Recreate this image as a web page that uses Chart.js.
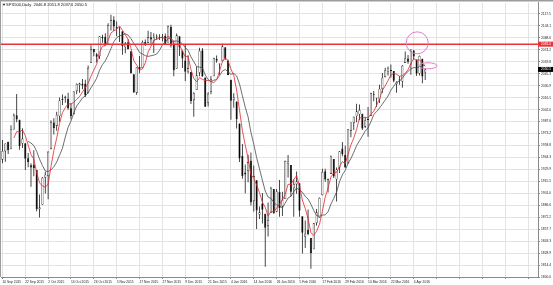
<!DOCTYPE html>
<html>
<head>
<meta charset="utf-8">
<script src="https://cdn.jsdelivr.net/npm/chart.js@4.4.1/dist/chart.umd.min.js"></script>
<style>
  html, body { margin: 0; padding: 0; background: #fff; }
</style>
</head>
<body>
<canvas id="chart" width="553" height="285"></canvas>
<script>
const symbolTitle = 'SPX500,Daily';

// one entry per daily bar
const dates = [
  '10 Sep 2015','11 Sep 2015','14 Sep 2015','15 Sep 2015','16 Sep 2015','17 Sep 2015','18 Sep 2015','21 Sep 2015','22 Sep 2015','23 Sep 2015','24 Sep 2015','25 Sep 2015','28 Sep 2015','29 Sep 2015','30 Sep 2015',
  '1 Oct 2015','2 Oct 2015','5 Oct 2015','6 Oct 2015','7 Oct 2015','8 Oct 2015','9 Oct 2015','12 Oct 2015','13 Oct 2015','14 Oct 2015','15 Oct 2015','16 Oct 2015','19 Oct 2015','20 Oct 2015','21 Oct 2015','22 Oct 2015','23 Oct 2015','26 Oct 2015','27 Oct 2015','28 Oct 2015','29 Oct 2015','30 Oct 2015',
  '2 Nov 2015','3 Nov 2015','4 Nov 2015','5 Nov 2015','6 Nov 2015','9 Nov 2015','10 Nov 2015','11 Nov 2015','12 Nov 2015','13 Nov 2015','16 Nov 2015','17 Nov 2015','18 Nov 2015','19 Nov 2015','20 Nov 2015','23 Nov 2015','24 Nov 2015','25 Nov 2015','26 Nov 2015','27 Nov 2015','30 Nov 2015',
  '1 Dec 2015','2 Dec 2015','3 Dec 2015','4 Dec 2015','7 Dec 2015','8 Dec 2015','9 Dec 2015','10 Dec 2015','11 Dec 2015','14 Dec 2015','15 Dec 2015','16 Dec 2015','17 Dec 2015','18 Dec 2015','21 Dec 2015','22 Dec 2015','23 Dec 2015','24 Dec 2015','28 Dec 2015','29 Dec 2015','30 Dec 2015','31 Dec 2015',
  '4 Jan 2016','5 Jan 2016','6 Jan 2016','7 Jan 2016','8 Jan 2016','11 Jan 2016','12 Jan 2016','13 Jan 2016','14 Jan 2016','15 Jan 2016','18 Jan 2016','19 Jan 2016','20 Jan 2016','21 Jan 2016','22 Jan 2016','25 Jan 2016','26 Jan 2016','27 Jan 2016','28 Jan 2016','29 Jan 2016',
  '1 Feb 2016','2 Feb 2016','3 Feb 2016','4 Feb 2016','5 Feb 2016','8 Feb 2016','9 Feb 2016','10 Feb 2016','11 Feb 2016','12 Feb 2016','15 Feb 2016','16 Feb 2016','17 Feb 2016','18 Feb 2016','19 Feb 2016','22 Feb 2016','23 Feb 2016','24 Feb 2016','25 Feb 2016','26 Feb 2016','29 Feb 2016',
  '1 Mar 2016','2 Mar 2016','3 Mar 2016','4 Mar 2016','7 Mar 2016','8 Mar 2016','9 Mar 2016','10 Mar 2016','11 Mar 2016','14 Mar 2016','15 Mar 2016','16 Mar 2016','17 Mar 2016','18 Mar 2016','21 Mar 2016','22 Mar 2016','23 Mar 2016','24 Mar 2016','28 Mar 2016','29 Mar 2016','30 Mar 2016','31 Mar 2016',
  '1 Apr 2016','4 Apr 2016','5 Apr 2016','6 Apr 2016','7 Apr 2016','8 Apr 2016'
];

const opens = [
  1941.6,1951.5,1963.1,1955.1,1978.0,1995.3,1989.7,1960.8,1961.4,1943.2,1934.8,1935.9,1929.2,1881.9,1887.1,
  1919.7,1921.8,1954.3,1986.6,1982.3,1994.0,2013.7,2015.7,2015.0,2003.7,1996.5,2024.4,2031.7,2033.1,2033.5,2021.9,2058.2,2075.1,2068.8,2066.5,2088.4,2090.0,
  2080.8,2102.6,2110.6,2101.7,2098.6,2096.6,2077.2,2083.4,2072.3,2044.6,2022.1,2053.7,2052.0,2083.7,2082.8,2089.4,2084.4,2089.3,2088.5,2088.8,2091.0,
  2082.9,2101.7,2080.7,2051.2,2090.4,2073.4,2061.2,2047.9,2047.3,2013.4,2025.6,2046.5,2073.8,2040.8,2010.3,2023.2,2042.2,2063.5,2057.8,2060.5,2077.3,2060.6,
  2038.2,2013.8,2011.7,1985.3,1946.0,1926.1,1927.8,1940.3,1891.7,1916.7,1875.0,1888.7,1876.2,1861.5,1877.4,1906.3,1878.8,1902.5,1885.2,1894.0,
  1936.9,1935.3,1907.1,1911.7,1913.1,1873.3,1848.5,1857.1,1847.0,1833.4,1865.0,1871.4,1898.8,1927.6,1916.7,1924.4,1942.4,1917.6,1931.9,1955.0,1947.1,
  1937.1,1976.6,1985.6,1994.0,1996.1,1996.9,1981.4,1991.0,1994.7,2019.3,2015.3,2014.2,2026.9,2041.2,2047.9,2048.6,2048.6,2032.5,2037.9,2035.8,2058.3,2063.8,
  2056.6,2073.2,2062.5,2045.6,2063.4,2046.8
];

const highs = [
  1965.3,1961.1,1963.1,1983.2,1997.3,2020.9,1989.7,1979.6,1961.4,1949.5,1937.2,1952.9,1929.2,1899.5,1920.5,
  1927.2,1951.4,1989.2,1991.6,1999.3,2016.5,2020.1,2018.7,2022.3,2009.6,2024.2,2033.5,2034.5,2039.1,2038.0,2055.2,2079.7,2075.1,2070.4,2090.4,2092.5,2094.3,
  2106.2,2116.5,2114.6,2108.8,2101.9,2096.6,2083.7,2086.9,2072.3,2044.6,2053.2,2066.7,2085.3,2086.7,2097.1,2095.6,2094.1,2093.0,2093.0,2093.3,2093.8,
  2103.4,2104.3,2085.0,2093.8,2090.4,2073.4,2080.3,2067.7,2047.3,2022.9,2053.9,2076.7,2076.4,2040.8,2022.9,2042.7,2064.7,2067.4,2057.8,2081.6,2077.3,2062.5,
  2038.2,2021.9,2011.7,1985.3,1960.4,1935.7,1947.4,1950.3,1934.5,1916.7,1885.0,1901.4,1876.2,1889.9,1908.9,1906.3,1906.3,1917.0,1903.0,1940.2,
  1947.2,1935.3,1918.0,1927.4,1913.1,1873.3,1868.3,1881.6,1847.0,1864.8,1882.0,1895.8,1930.7,1930.5,1918.8,1946.7,1942.4,1932.1,1951.8,1963.0,1958.3,
  1978.4,1986.5,1993.7,2009.1,2008.3,1996.9,1992.7,2005.1,2022.4,2024.6,2015.9,2032.0,2046.2,2052.4,2053.9,2056.6,2048.6,2036.0,2042.7,2055.9,2072.2,2067.9,
  2075.1,2074.0,2062.5,2067.3,2063.4,2051.8
];

const lows = [
  1937.2,1939.2,1948.3,1954.3,1977.9,1986.7,1953.5,1955.8,1929.2,1932.6,1908.9,1921.5,1879.2,1871.9,1887.1,
  1900.7,1893.7,1954.3,1972.0,1976.4,1987.5,2007.6,2010.3,2001.8,1990.7,1996.5,2020.5,2022.3,2026.6,2017.2,2021.9,2058.2,2066.5,2058.8,2063.1,2082.6,2079.3,
  2080.8,2097.5,2097.0,2090.4,2083.7,2068.2,2069.9,2074.9,2045.7,2022.0,2019.9,2045.9,2052.0,2078.8,2082.8,2081.4,2070.3,2086.3,2086.0,2084.1,2080.4,
  2082.9,2077.1,2042.4,2051.2,2066.8,2052.3,2036.5,2045.7,2008.8,1993.3,2025.6,2042.4,2041.7,2005.3,2005.9,2020.5,2042.2,2058.7,2044.2,2060.5,2062.0,2043.6,
  1989.7,2004.2,1979.1,1938.8,1918.5,1901.1,1914.4,1886.3,1878.9,1857.8,1870.0,1864.6,1812.3,1849.0,1877.4,1876.0,1878.8,1872.7,1873.6,1894.0,
  1920.0,1897.3,1872.7,1900.5,1872.7,1828.5,1834.9,1850.3,1810.1,1833.4,1862.0,1871.4,1898.8,1915.1,1902.0,1924.4,1919.4,1891.0,1925.4,1945.8,1931.8,
  1937.1,1968.8,1977.4,1986.8,1989.3,1977.4,1979.8,1969.2,1994.7,2012.1,2005.2,2010.0,2022.2,2041.2,2043.1,2040.6,2034.9,2022.5,2032.0,2028.3,2058.3,2057.5,
  2044.0,2062.6,2042.6,2043.1,2033.8,2037.6
];

const closes = [
  1952.3,1961.1,1953.0,1978.1,1995.3,1990.2,1958.0,1967.0,1942.7,1938.8,1932.2,1931.3,1881.8,1884.1,1920.0,
  1923.8,1951.4,1987.1,1979.9,1995.8,2013.4,2014.9,2017.5,2003.7,1994.2,2023.9,2033.1,2033.7,2030.8,2018.9,2052.5,2075.2,2071.2,2065.9,2090.4,2089.4,2079.4,
  2104.1,2109.8,2102.3,2099.9,2099.2,2078.6,2081.7,2075.0,2046.0,2023.0,2053.2,2050.4,2083.6,2081.2,2089.2,2086.6,2089.1,2088.9,2090.0,2090.1,2080.4,
  2102.6,2079.5,2049.6,2091.7,2077.1,2063.6,2047.6,2052.2,2012.4,2021.9,2043.4,2073.1,2041.9,2005.6,2021.2,2039.0,2064.3,2061.0,2056.5,2078.4,2063.4,2043.9,
  2012.7,2016.7,1990.3,1943.1,1922.0,1923.7,1938.7,1890.3,1921.8,1880.3,1878.0,1881.3,1859.3,1869.0,1906.9,1877.1,1903.6,1883.0,1893.4,1940.2,
  1939.4,1903.0,1912.5,1915.5,1880.1,1853.4,1852.2,1851.9,1829.1,1864.8,1878.0,1895.6,1926.8,1917.8,1917.8,1945.5,1921.3,1929.8,1951.7,1948.1,1932.2,
  1978.4,1986.5,1993.4,2000.0,2001.8,1979.3,1989.3,1989.6,2022.2,2019.6,2015.9,2027.2,2040.6,2049.6,2051.6,2049.8,2036.7,2035.9,2037.1,2055.0,2064.0,2059.7,
  2072.8,2066.1,2045.2,2066.7,2041.9,2050.5
];

const xTickLabels = [
  '10 Sep 2015','22 Sep 2015','2 Oct 2015','14 Oct 2015','26 Oct 2015','5 Nov 2015','17 Nov 2015','27 Nov 2015',
  '9 Dec 2015','21 Dec 2015','4 Jan 2016','14 Jan 2016','26 Jan 2016','5 Feb 2016','17 Feb 2016','29 Feb 2016',
  '10 Mar 2016','22 Mar 2016','4 Apr 2016'
];

const yTickValues = [
  1800.0,1814.4,1828.9,1843.3,1857.7,1872.2,1886.6,1901.0,1915.5,1929.9,1944.3,1958.8,
  1973.2,1987.6,2002.0,2016.5,2030.9,2045.3,2059.8,2074.2,2088.6,2103.1,2117.5
];

const resistanceLevel = 2081.0;
const fastPeriod = 5;
const slowPeriod = 10;

// hand drawn marks (bar index, price)
const circleMark = { bar: 145.2, price: 2082.6 };
const ellipseMark = { bar: 149.0, price: 2054.9 };

const rightShiftBars = 39;
const gridEveryBars = 8;

// simple moving average of the closes
function sma(values, period) {
  return values.map((v, i) => {
    if (i < period - 1) return null;
    let s = 0;
    for (let k = i - period + 1; k <= i; k++) s += values[k];
    return s / period;
  });
}

const lastClose = closes[closes.length - 1];
const n = closes.length - 1;
const headerText = symbolTitle + '  ' + [opens[n], highs[n], lows[n], closes[n]].map(v => v.toFixed(1)).join(' ');

const bodyData = opens.map((o, i) => [o, closes[i]]);
const wickData = lows.map((l, i) => [l, highs[i]]);
const bodyFill = opens.map((o, i) => closes[i] >= o ? '#ffffff' : '#000000');

const tinyFont = { family: 'Liberation Sans', size: 3.3 };

const overlay = {
  id: 'overlay',
  beforeDraw(chart) {
    const c = chart.ctx;
    c.save();
    c.fillStyle = '#ffffff';
    c.fillRect(0, 0, chart.width, chart.height);
    c.restore();
  },
  afterDatasetsDraw(chart) {
    const { ctx, chartArea: a, scales: { x, y } } = chart;
    const ly = y.getPixelForValue(resistanceLevel);
    ctx.save();
    ctx.strokeStyle = '#e8323c';
    ctx.lineWidth = 1.5;
    ctx.beginPath();
    ctx.moveTo(a.left, ly);
    ctx.lineTo(a.right, ly);
    ctx.stroke();

    ctx.strokeStyle = '#e07fcc';
    ctx.lineWidth = 1;
    ctx.beginPath();
    ctx.arc(x.getPixelForValue(circleMark.bar), y.getPixelForValue(circleMark.price), 11, 0, Math.PI * 2);
    ctx.stroke();
    ctx.beginPath();
    ctx.ellipse(x.getPixelForValue(ellipseMark.bar), y.getPixelForValue(ellipseMark.price), 9, 3, 0, 0, Math.PI * 2);
    ctx.stroke();
    ctx.restore();
  },
  afterDraw(chart) {
    const { ctx, chartArea: a, scales: { y } } = chart;
    ctx.save();
    // window frame
    ctx.fillStyle = '#9c9c9c';
    ctx.fillRect(0, 0, chart.width, 1.5);
    ctx.fillRect(0, 0, 1, a.bottom);

    // price boxes on the axis
    const box = (price, fill) => {
      const py = y.getPixelForValue(price);
      ctx.fillStyle = fill;
      ctx.fillRect(a.right, py - 2.5, chart.width - a.right, 5);
      ctx.fillStyle = '#ffffff';
      ctx.font = '3.3px "Liberation Sans"';
      ctx.textBaseline = 'middle';
      ctx.textAlign = 'left';
      ctx.fillText(price.toFixed(1), a.right + 3, py);
    };
    box(resistanceLevel, '#e8323c');
    box(lastClose, '#000000');

    // header
    ctx.fillStyle = '#111';
    ctx.font = '4.1px "Liberation Sans"';
    ctx.textBaseline = 'middle';
    ctx.textAlign = 'left';
    ctx.fillText('\u25BC', 2, 5);
    ctx.fillText(headerText, 6, 5);
    ctx.restore();
  }
};

new Chart(document.getElementById('chart'), {
  type: 'bar',
  data: {
    labels: dates.concat(new Array(rightShiftBars).fill('')),
    datasets: [
      {
        type: 'line', label: 'MA ' + fastPeriod, data: sma(closes, fastPeriod),
        borderColor: '#e3262f', borderWidth: 0.8, pointRadius: 0, tension: 0, order: 0
      },
      {
        type: 'line', label: 'MA ' + slowPeriod, data: sma(closes, slowPeriod),
        borderColor: '#4a4a4a', borderWidth: 0.8, pointRadius: 0, tension: 0, order: 1
      },
      {
        label: 'body', data: bodyData, backgroundColor: bodyFill, borderColor: '#1a1a1a',
        borderWidth: 0.6, borderSkipped: false, barThickness: 2.2, grouped: false,
        minBarLength: 1, inflateAmount: 0, order: 2
      },
      {
        label: 'wick', data: wickData, backgroundColor: '#1a1a1a', barThickness: 0.8,
        grouped: false, inflateAmount: 0, order: 3
      }
    ]
  },
  options: {
    responsive: false,
    animation: false,
    devicePixelRatio: 1,
    layout: { padding: { left: 1, top: 2, right: 0, bottom: 0 } },
    plugins: { legend: { display: false }, tooltip: { enabled: false } },
    scales: {
      x: {
        offset: true,
        grid: {
          offset: false,
          color: ctx => ctx.index % gridEveryBars === 0 ? '#e3e3e3' : 'rgba(0,0,0,0)',
          tickColor: ctx => ctx.index % gridEveryBars === 0 ? '#8a8a8a' : 'rgba(0,0,0,0)',
          tickLength: 2
        },
        border: { display: true, color: '#8a8a8a' },
        ticks: {
          autoSkip: false, maxRotation: 0, minRotation: 0, align: 'start', padding: 1,
          font: tinyFont, color: '#222',
          callback: function (v) {
            const l = this.getLabelForValue(v);
            return xTickLabels.includes(l) ? l : '';
          }
        },
        afterFit: s => { s.height = 8; }
      },
      y: {
        position: 'right',
        min: 1800,
        max: 2130.7,
        afterBuildTicks: s => { s.ticks = yTickValues.map(v => ({ value: v })); },
        grid: { color: '#e3e3e3', tickColor: '#8a8a8a', tickLength: 2 },
        border: { display: true, color: '#8a8a8a' },
        ticks: {
          autoSkip: false, padding: 1, font: tinyFont, color: '#222',
          callback: v => v.toFixed(1)
        },
        afterFit: s => { s.width = 15; }
      }
    }
  },
  plugins: [overlay]
});
</script>
</body>
</html>
